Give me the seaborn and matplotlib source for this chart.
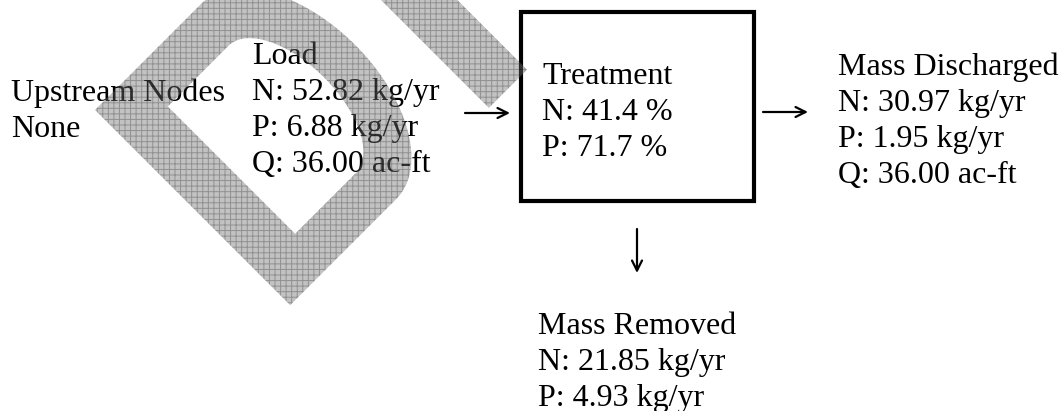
import numpy as np
import seaborn as sns
import matplotlib.pyplot as plt
from matplotlib.patches import Polygon, Rectangle, PathPatch
from matplotlib.path import Path

# valores do balanco de massa
nutrientes = ['N', 'P']
nos_montante = ['None']
carga_kg = [52.82, 6.88]
carga_q = 36.00
tratamento_pct = [41.4, 71.7]
descarga_kg = [30.97, 1.95]
descarga_q = 36.00
removido_kg = [21.85, 4.93]

sns.set_theme(style="white")
plt.rcParams['font.family'] = ['Liberation Serif', 'DejaVu Serif']
plt.rcParams['hatch.linewidth'] = 0.7

W, H = 1061, 411
fig = plt.figure(figsize=(W / 100, H / 100), dpi=100)
ax = fig.add_axes([0, 0, 1, 1])
ax.set_xlim(0, W)
ax.set_ylim(H, 0)
ax.axis('off')

fs = 23


def bloco(x, y0, linhas, passo=36):
    for i, t in enumerate(linhas):
        ax.text(x, y0 + i * passo, t, fontsize=fs, ha='left', va='baseline',
                color='black', zorder=1)


bloco(11, 101, ['Upstream Nodes'] + nos_montante)
bloco(252, 64, ['Load'] + [f'{n}: {v:.2f} kg/yr' for n, v in zip(nutrientes, carga_kg)]
      + [f'Q: {carga_q:.2f} ac-ft'])
bloco(542, 84, ['Treatment'] + [f'{n}: {v:.1f} %' for n, v in zip(nutrientes, tratamento_pct)])
bloco(838, 75, ['Mass Discharged'] + [f'{n}: {v:.2f} kg/yr' for n, v in zip(nutrientes, descarga_kg)]
      + [f'Q: {descarga_q:.2f} ac-ft'])
bloco(538, 334, ['Mass Removed'] + [f'{n}: {v:.2f} kg/yr' for n, v in zip(nutrientes, removido_kg)])

# caixa do tratamento
ax.add_patch(Rectangle((520.5, 12), 233.5, 189.5, fill=False, lw=3, ec='black', zorder=1))

# setas
seta = dict(arrowstyle='->', lw=1.6, color='black', mutation_scale=18, shrinkA=0, shrinkB=0)
ax.annotate('', xy=(510, 113), xytext=(465, 113), arrowprops=seta)
ax.annotate('', xy=(808, 112), xytext=(763, 112), arrowprops=seta)
ax.annotate('', xy=(637, 273), xytext=(637, 229), arrowprops=seta)


# marca d'agua (D girado + faixa), semitransparente por cima do texto
def rot(pts, x0=95, y0=110):
    pts = np.asarray(pts, dtype=float)
    u, v = pts[:, 0], pts[:, 1]
    return np.column_stack([x0 + (u + v) / np.sqrt(2), y0 + (u - v) / np.sqrt(2)])


def forma_d(u0, u1, v0, v1, b):
    a = (u1 - u0) / 2
    uc = (u0 + u1) / 2
    th = np.linspace(0, np.pi, 60)
    arco = np.column_stack([uc + a * np.cos(th), v1 + b * np.sin(th)])
    return np.vstack([[u0, v0], [u1, v0], [u1, v1], arco, [u0, v1]])


ext = rot(forma_d(0, 276, 0, 150, 80))
inn = rot(forma_d(49, 229, 54, 140, 45))[::-1]
verts = np.vstack([ext, ext[:1], inn, inn[:1]])
codes = ([Path.MOVETO] + [Path.LINETO] * (len(ext) - 1) + [Path.CLOSEPOLY]
         + [Path.MOVETO] + [Path.LINETO] * (len(inn) - 1) + [Path.CLOSEPOLY])
wm = dict(facecolor=(0.45, 0.45, 0.45, 0.43), edgecolor=(0, 0, 0, 0.25),
          hatch='+++', lw=0, zorder=5)
ax.add_patch(PathPatch(Path(verts, codes), **wm))
faixa = rot([[-150, 280], [277, 280], [277, 334], [-150, 334]])
ax.add_patch(Polygon(faixa, closed=True, **wm))

fig.savefig('out.png', dpi=100)
